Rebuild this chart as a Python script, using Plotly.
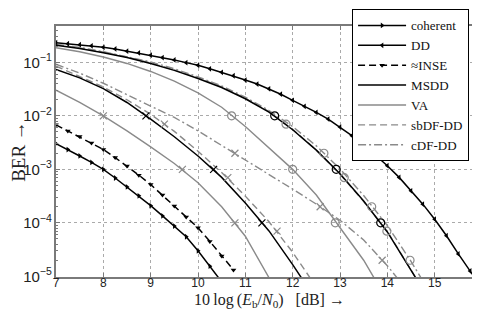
import plotly.graph_objects as go

# ---------------- data ----------------
# curves with markers every 0.25 dB
coh_ebn0 = [7.0, 7.25, 7.5, 7.75, 8.0, 8.25, 8.5, 8.75, 9.0, 9.25, 9.5, 9.75, 10.0, 10.25, 10.5]
coh_ber = [3.02e-3, 2.34e-3, 1.78e-3, 1.35e-3, 1.0e-3, 6.9e-4, 4.7e-4, 3.2e-4, 2.1e-4, 1.35e-4,
           8.7e-5, 5.5e-5, 3.0e-5, 1.55e-5, 7.9e-6]

dd_ebn0 = [7.0, 7.25, 7.5, 7.75, 8.0, 8.25, 8.5, 8.75, 9.0, 9.25, 9.5, 9.75, 10.0, 10.25, 10.5,
           10.75, 11.0, 11.25, 11.5, 11.75, 12.0, 12.25, 12.5, 12.75, 13.0, 13.25, 13.5, 13.75,
           14.0, 14.25, 14.5, 14.75, 15.0, 15.25, 15.5, 15.75, 16.0]
dd_ber = [0.234, 0.224, 0.214, 0.204, 0.191, 0.178, 0.162, 0.150, 0.136, 0.123, 0.111, 0.0989,
          0.0881, 0.0759, 0.0653, 0.0562, 0.0468, 0.0394, 0.0320, 0.0254, 0.0195, 0.0151, 0.0116,
          8.71e-3, 6.17e-3, 4.27e-3, 2.88e-3, 1.86e-3, 1.17e-3, 7.08e-4, 3.98e-4, 2.24e-4,
          1.17e-4, 5.75e-5, 2.63e-5, 1.26e-5, 6.0e-6]

inse_ebn0 = [7.0, 7.25, 7.5, 7.75, 8.0, 8.25, 8.5, 8.75, 9.0, 9.25, 9.5, 9.75, 10.0, 10.25, 10.5, 10.75]
inse_ber = [6.8e-3, 5.2e-3, 4.1e-3, 3.1e-3, 2.35e-3, 1.66e-3, 1.15e-3, 7.8e-4, 5.2e-4, 3.3e-4,
            2.07e-4, 1.29e-4, 8.1e-5, 4.5e-5, 2.4e-5, 1.32e-5]

# family marked with "x"
msdd_x_ebn0 = [7.0, 7.5, 8.0, 8.5, 9.0, 9.5, 10.0, 10.5, 11.0, 11.5, 12.0, 12.5]
msdd_x_ber = [7.41e-2, 5.13e-2, 3.24e-2, 1.78e-2, 8.71e-3, 4.07e-3, 1.78e-3, 7.08e-4, 2.34e-4,
              7.08e-5, 1.66e-5, 3.55e-6]
va_x_ebn0 = [7.0, 7.5, 8.0, 8.5, 9.0, 9.5, 10.0, 10.5, 11.0, 11.5, 12.0]
va_x_ber = [3.02e-2, 1.78e-2, 1.0e-2, 5.25e-3, 2.63e-3, 1.29e-3, 5.62e-4, 2.0e-4, 5.62e-5, 1.0e-5, 1.58e-6]
sb_x_ebn0 = [7.0, 7.5, 8.0, 8.5, 9.0, 9.5, 10.0, 10.5, 11.0, 11.5, 12.0, 12.5]
sb_x_ber = [8.51e-2, 5.50e-2, 3.47e-2, 2.0e-2, 1.07e-2, 5.13e-3, 2.19e-3, 8.71e-4, 3.16e-4,
            1.05e-4, 2.82e-5, 6.31e-6]
cdf_x_ebn0 = [7.0, 7.5, 8.0, 8.5, 9.0, 9.5, 10.0, 10.5, 11.0, 11.5, 12.0, 12.5, 13.0, 13.5, 14.0, 14.5]
cdf_x_ber = [9.23e-2, 6.31e-2, 4.07e-2, 2.51e-2, 1.55e-2, 9.33e-3, 5.25e-3, 2.82e-3, 1.51e-3,
             8.13e-4, 4.27e-4, 2.24e-4, 1.12e-4, 4.79e-5, 1.58e-5, 4.47e-6]

# family marked with "o"
msdd_o_ebn0 = [7.0, 7.5, 8.0, 8.5, 9.0, 9.5, 10.0, 10.5, 11.0, 11.5, 12.0, 12.5, 13.0, 13.5, 14.0, 14.5, 15.0]
msdd_o_ber = [0.209, 0.182, 0.151, 0.123, 9.55e-2, 7.08e-2, 5.01e-2, 3.39e-2, 2.09e-2, 1.17e-2,
              5.50e-3, 2.29e-3, 8.32e-4, 2.57e-4, 6.76e-5, 1.26e-5, 2.51e-6]
va_o_ebn0 = [7.0, 7.5, 8.0, 8.5, 9.0, 9.5, 10.0, 10.5, 11.0, 11.5, 12.0, 12.5, 13.0, 13.5, 14.0]
va_o_ber = [0.188, 0.158, 0.126, 9.55e-2, 6.76e-2, 4.47e-2, 2.69e-2, 1.45e-2, 6.31e-3, 2.51e-3,
            1.0e-3, 3.31e-4, 7.94e-5, 2.0e-5, 3.55e-6]
sb_o_ebn0 = [7.0, 7.5, 8.0, 8.5, 9.0, 9.5, 10.0, 10.5, 11.0, 11.5, 12.0, 12.5, 13.0, 13.5, 14.0, 14.5, 15.0]
sb_o_ber = [0.214, 0.186, 0.155, 0.126, 9.77e-2, 7.24e-2, 5.13e-2, 3.47e-2, 2.14e-2, 1.20e-2,
            5.62e-3, 2.29e-3, 8.13e-4, 2.51e-4, 6.92e-5, 1.41e-5, 2.51e-6]
cdf_o_ebn0 = [7.0, 7.5, 8.0, 8.5, 9.0, 9.5, 10.0, 10.5, 11.0, 11.5, 12.0, 12.5, 13.0, 13.5, 14.0, 14.5, 15.0]
cdf_o_ber = [0.216, 0.191, 0.158, 0.129, 0.102, 7.59e-2, 5.37e-2, 3.63e-2, 2.24e-2, 1.26e-2,
             6.31e-3, 2.75e-3, 1.02e-3, 3.24e-4, 8.91e-5, 1.91e-5, 3.55e-6]

# sparse marker positions
mk_msdd_x = ([8.9, 10.33, 11.35], [1e-2, 1e-3, 1e-4])
mk_va_x = ([8.0, 9.67, 10.78], [1e-2, 1e-3, 1e-4])
mk_sb_x = ([9.29, 10.63, 11.67], [7e-3, 7e-4, 7e-5])
mk_cdf_x = ([10.78, 12.58, 13.89], [2e-3, 2e-4, 2e-5])
mk_msdd_o = ([11.62, 12.92, 13.86], [1e-2, 1e-3, 1e-4])
mk_va_o = ([10.71, 12.0, 12.9], [1e-2, 1e-3, 1e-4])
mk_sb_o = ([11.86, 13.09, 13.99], [7e-3, 7e-4, 7e-5])
mk_cdf_o = ([12.66, 13.67, 14.48], [2e-3, 2e-4, 2e-5])

x_ticks = [7, 8, 9, 10, 11, 12, 13, 14, 15, 16]
x_title = "10\u2009log\u2009(<i>E</i><sub>b</sub>/<i>N</i><sub>0</sub>)\u00a0\u00a0\u00a0[dB] \u2192"
y_title = "BER \u2192"

# ---------------- figure ----------------
BLACK = "#000000"
GRAY = "#8a8a8a"
DASH = "7px,4px"
DASHDOT = "8px,3px,2px,3px"

fig = go.Figure()

def line(x, y, color, width, dash, name, show, rank):
    fig.add_trace(go.Scatter(x=x, y=y, mode="lines", name=name, showlegend=show,
                             legendgroup=name, legendrank=rank,
                             line=dict(color=color, width=width, dash=dash)))

def marks(m, color, symbol, size):
    fig.add_trace(go.Scatter(x=m[0], y=m[1], mode="markers", showlegend=False,
                             marker=dict(symbol=symbol, size=size, color=color,
                                         line=dict(color=color, width=1.2))))

# gray families first (underneath)
line(va_x_ebn0, va_x_ber, GRAY, 1.4, "solid", "VA", True, 5)
line(va_o_ebn0, va_o_ber, GRAY, 1.4, "solid", "VA", False, 5)
line(sb_x_ebn0, sb_x_ber, GRAY, 1.4, DASH, "sbDF-DD", True, 6)
line(sb_o_ebn0, sb_o_ber, GRAY, 1.4, DASH, "sbDF-DD", False, 6)
line(cdf_x_ebn0, cdf_x_ber, GRAY, 1.4, DASHDOT, "cDF-DD", True, 7)
line(cdf_o_ebn0, cdf_o_ber, GRAY, 1.4, DASHDOT, "cDF-DD", False, 7)
line(msdd_x_ebn0, msdd_x_ber, BLACK, 1.5, "solid", "MSDD", True, 4)
line(msdd_o_ebn0, msdd_o_ber, BLACK, 1.5, "solid", "MSDD", False, 4)

fig.add_trace(go.Scatter(x=coh_ebn0, y=coh_ber, mode="lines+markers", name="coherent",
                         legendgroup="coherent", legendrank=1,
                         line=dict(color=BLACK, width=1.5),
                         marker=dict(symbol="triangle-right", size=5, color=BLACK)))
fig.add_trace(go.Scatter(x=dd_ebn0, y=dd_ber, mode="lines+markers", name="DD",
                         legendgroup="DD", legendrank=2,
                         line=dict(color=BLACK, width=1.5),
                         marker=dict(symbol="triangle-left", size=5, color=BLACK)))
fig.add_trace(go.Scatter(x=inse_ebn0, y=inse_ber, mode="lines+markers", name="≈INSE",
                         legendgroup="INSE", legendrank=3,
                         line=dict(color=BLACK, width=1.5, dash=DASH),
                         marker=dict(symbol="triangle-down", size=5, color=BLACK)))

marks(mk_va_x, GRAY, "x-thin-open", 7)
marks(mk_sb_x, GRAY, "x-thin-open", 7)
marks(mk_cdf_x, GRAY, "x-thin-open", 7)
marks(mk_msdd_x, BLACK, "x-thin-open", 7)
marks(mk_va_o, GRAY, "circle-open", 8)
marks(mk_sb_o, GRAY, "circle-open", 8)
marks(mk_cdf_o, GRAY, "circle-open", 8)
marks(mk_msdd_o, BLACK, "circle-open", 8)

AX = "#7a7a7a"
TICKFONT = dict(family="Liberation Sans, Arial, sans-serif", size=12, color="#222")
SERIF = "Liberation Serif, Times New Roman, serif"

fig.update_layout(
    width=480, height=310,
    margin=dict(l=42, r=6, t=1, b=41),
    paper_bgcolor="white", plot_bgcolor="white",
    legend=dict(x=0.695, xanchor="left", y=1.066, yanchor="top",
                bgcolor="white", bordercolor="black", borderwidth=1,
                font=dict(family=SERIF, size=13, color="#111"),
                traceorder="grouped", tracegroupgap=0, itemwidth=48),
    annotations=[dict(text=x_title, xref="paper", yref="paper", x=0.5, y=-0.095,
                      xanchor="center", yanchor="middle", showarrow=False,
                      font=dict(family=SERIF, size=16, color="#222"))],
)

fig.update_xaxes(
    range=[7, 16], tickvals=x_ticks, ticks="inside", ticklen=4, tickcolor=AX,
    showline=True, linecolor=AX, linewidth=1.5, mirror="ticks",
    showgrid=True, gridcolor="#aaaaaa", griddash="dot", gridwidth=1,
    tickfont=TICKFONT, zeroline=False, ticklabelstandoff=-6,
)
fig.update_yaxes(
    type="log", range=[-5.012, -0.32], dtick=1, exponentformat="power",
    ticks="inside", ticklen=4, tickcolor=AX,
    minor=dict(ticks="inside", ticklen=2, tickcolor=AX, dtick="D1", showgrid=False),
    showline=True, linecolor=AX, linewidth=1.5, mirror="ticks",
    showgrid=True, gridcolor="#aaaaaa", griddash="dot", gridwidth=1,
    tickfont=TICKFONT, zeroline=False,
    title=dict(text=y_title, font=dict(family=SERIF, size=19, color="#222"), standoff=1),
)

fig.write_html("out.html")
